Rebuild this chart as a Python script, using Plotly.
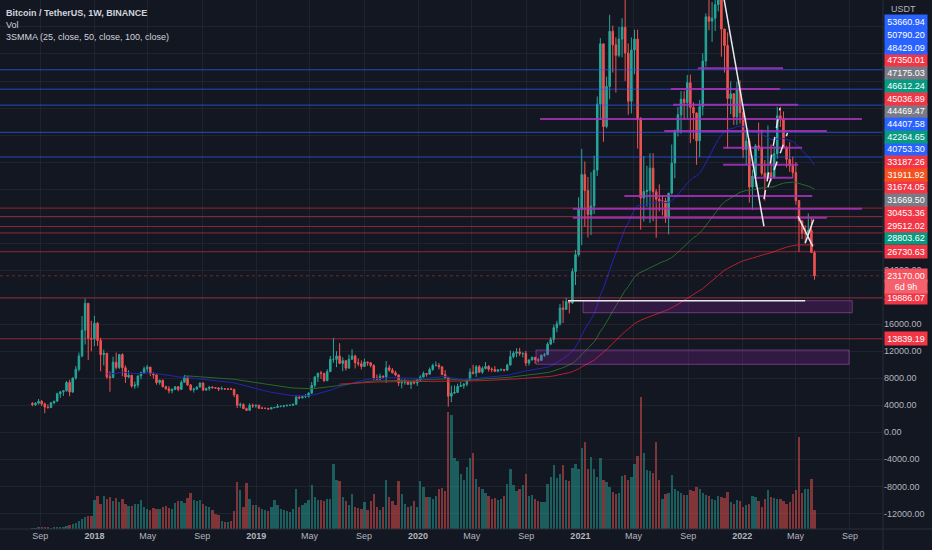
import pandas as pd
import plotly.graph_objects as go

# weekly BTC/USDT candles, week starting 2017-08-14
first_open = 4261
high = [4485, 4453, 4939, 4788, 4394, 4123, 4470, 4650, 5850, 6100, 6200, 7600, 7776, 8100, 9800, 11800, 17200, 19798, 19000, 16500,
        17250, 16300, 14000, 12250, 11700, 9000, 11200, 11800, 11600, 11700, 9900, 9200, 8500, 7500, 8400, 9000, 9750, 9990, 9650, 8880,
        8550, 7800, 7800, 6900, 6850, 6500, 6800, 6800, 7700, 8500, 8280, 7150, 6600, 6800, 7400, 7400, 6600, 6800, 6800, 6650,
        6700, 6800, 6550, 6500, 6600, 6450, 5650, 4400, 4300, 3650, 4300, 4250, 4100,
        4100, 3800, 3650, 3550, 3700, 3700, 4200, 3950, 3950, 4050, 4100, 4150, 5500, 5450, 5450, 5650, 5900, 7450, 8300, 8800,
        9100, 8800, 9350, 11300, 13970, 12000, 13200, 11100, 10650, 11500, 12300, 11500, 10950, 10650, 10900, 10450, 10350, 10050, 8550, 8700,
        8420, 10540, 9950, 9500, 9100, 8500, 7850, 7900, 7650, 7500, 7700, 7800,
        8450, 9000, 8750, 9600, 10150, 10500, 10250, 9700, 9200, 8200, 6900, 6950, 7200, 7450, 7300, 7750, 9450, 10000, 9950, 9950,
        9750, 10400, 9950, 9600, 9800, 9300, 9450, 9300, 10150, 12100, 12000, 12450, 12500, 11800, 12050, 10800, 11200, 11050, 11000, 11500,
        11750, 13350, 14100, 15950, 16500, 19000, 19500, 19900, 19450, 24300, 27000, 34800,
        41950, 40100, 37800, 38500, 40950, 49700, 58350, 57500, 52650, 61800, 60200, 58450, 60000, 61300, 64900, 57550, 58450, 59600, 59600, 46650,
        40900, 39450, 41300, 41300, 36000, 36700, 35100, 34700, 35400, 42600, 44800, 48150, 50500, 50500, 52900, 52950, 48850, 47350, 49200, 56100,
        62000, 67000, 63700, 64300, 69000, 66350, 59450, 59200, 51950, 50200, 51900, 52100,
        47550, 44450, 43500, 38900, 42650, 45850, 44800, 40300, 45400, 42600, 42350, 48200, 48200, 47500, 42400, 42950, 40800, 40000, 34250, 31300,
        30650, 32400, 31750, 26900]
low = [3850, 3900, 4110, 3900, 2817, 3505, 3610, 4170, 4550, 5100, 5380, 6030, 5325, 5850, 7800, 9000, 11100, 13000, 10700, 12000,
       12750, 12800, 9035, 9900, 7900, 6000, 8050, 9300, 9350, 8300, 7300, 8000, 6600, 6450, 6600, 7850, 8700, 8900, 8300, 7950,
       7050, 7050, 6650, 6300, 5750, 5780, 6250, 6070, 6300, 7400, 6900, 6100, 5880, 6250, 6650, 6100, 6150, 6150, 6450, 6450,
       6100, 6350, 6350, 6250, 6300, 5200, 3600, 3650, 3450, 3200, 3250, 3600, 3650,
       3500, 3500, 3450, 3350, 3400, 3550, 3680, 3700, 3700, 3800, 3900, 3950, 4100, 4900, 5000, 5050, 5150, 5650, 6600, 7450,
       7900, 7450, 7550, 8950, 10300, 9650, 10100, 9050, 9150, 9400, 10800, 9450, 9800, 9300, 9700, 9850, 9600, 7700, 7800, 7800,
       7900, 7300, 8970, 8700, 8300, 6850, 6500, 7050, 7000, 6400, 7100, 6850,
       7450, 8100, 8250, 8550, 9100, 9750, 9300, 8450, 8100, 3800, 4450, 5650, 5850, 6750, 6450, 6800, 7650, 8550, 8200, 8800,
       8650, 9300, 9000, 8900, 8900, 8900, 9050, 9000, 9100, 9950, 10950, 11100, 11300, 11100, 9800, 9900, 10650, 10150, 10350, 10550,
       11150, 11400, 12950, 13200, 14800, 15800, 16200, 18100, 17600, 19000, 21800, 26000,
       27700, 30400, 28850, 29200, 32300, 37950, 46250, 43000, 45000, 49300, 53250, 50300, 55500, 55500, 52000, 47000, 47200, 53000, 42000, 30000,
       31200, 33400, 31000, 31250, 28800, 32700, 32100, 31000, 29300, 35200, 37600, 43800, 44200, 46400, 46500, 42800, 43400, 39600, 40750, 46900,
       54150, 59500, 57800, 59400, 62300, 55600, 53250, 42000, 47100, 45500, 45500, 45700,
       40600, 39650, 34000, 32900, 36300, 41650, 38000, 34300, 37500, 37150, 37550, 40500, 45200, 42100, 39200, 38550, 37700, 33700, 26700, 28600,
       28000, 29300, 26550, 22600]
close = [4087, 4310, 4580, 4200, 3730, 3660, 4380, 4610, 5710, 5990, 6150, 7370, 5950, 8040, 9330, 11300, 15100, 19100, 13900, 13800,
         16150, 13600, 11500, 11700, 8200, 8100, 10380, 9600, 11500, 9550, 8200, 8450, 6850, 7000, 8350, 8800, 9400, 9650, 8700, 8500,
         7350, 7700, 6750, 6450, 6150, 6350, 6750, 6350, 7400, 8200, 7000, 6300, 6400, 6700, 7300, 6250, 6500, 6700, 6600, 6550,
         6400, 6450, 6400, 6400, 6350, 5550, 4000, 4100, 3500, 3250, 4000, 3900, 4000,
         3550, 3550, 3550, 3450, 3650, 3680, 3850, 3850, 3950, 4000, 4000, 4150, 5200, 5100, 5300, 5300, 5800, 6950, 8200, 8750,
         8740, 7650, 8980, 10800, 10800, 11300, 10200, 10600, 9500, 10800, 11300, 10300, 10150, 9750, 10400, 10300, 9900, 8050, 7850, 8300,
         8200, 9550, 9200, 8800, 8500, 7300, 7400, 7500, 7100, 7500, 7300, 7750,
         8180, 8700, 8600, 9300, 9900, 9900, 9700, 8550, 8050, 5350, 5800, 5900, 6780, 6900, 7100, 7700, 8900, 8750, 9700, 8900,
         9450, 9750, 9350, 9300, 9050, 9250, 9300, 9200, 9950, 11200, 11700, 11900, 11650, 11700, 10250, 10700, 11100, 10750, 10650, 11400,
         11500, 13050, 13750, 15480, 16050, 18400, 18200, 19350, 19150, 23800, 26300, 33000,
         38150, 35800, 32250, 33500, 38800, 48600, 57500, 45250, 51200, 59350, 57350, 55800, 58200, 59950, 56150, 49000, 56600, 58200, 46400, 34700,
         35650, 35800, 39100, 35600, 34500, 34250, 34250, 31800, 35400, 39850, 44600, 47000, 49300, 48800, 51750, 48100, 47250, 43150, 48200, 54950,
         61500, 60850, 61300, 63300, 65500, 59700, 57250, 49400, 50100, 46700, 50800, 47300,
         41850, 43100, 36300, 37900, 42400, 42200, 38350, 37700, 38400, 37800, 41250, 46850, 46400, 42150, 40400, 39450, 38450, 34300, 31300, 29450,
         29450, 29900, 26600, 23170]
# volume, thousand BTC
volume_k = [8, 8, 12, 16, 12, 12, 10, 12, 16, 16, 16, 24, 32, 40, 48, 64, 80, 96, 104, 104,
            232, 264, 200, 264, 240, 256, 224, 248, 216, 240, 200, 184, 184, 200, 200, 232, 176, 160, 152, 168,
            160, 160, 176, 184, 168, 160, 208, 224, 224, 208, 248, 288, 232, 224, 232, 200, 184, 176, 152, 120,
            112, 64, 56, 56,
            64, 144, 376, 312, 176, 368, 240, 192, 192, 176, 160, 152, 144, 176, 232, 192, 160, 152, 144, 136,
            160, 320, 176, 192, 208, 232, 352, 256, 232, 232, 224, 240, 240, 520, 392, 384, 256, 224, 192, 280,
            176, 168, 160, 216, 152, 224, 280, 176, 152, 176, 392, 256, 224, 192, 384, 280, 200, 176, 184, 224,
            176, 384, 336, 256, 256, 240, 264, 320, 328, 304,
            928, 904, 560, 536, 440, 392, 496, 560, 600, 400, 336, 320, 288, 264, 240, 248, 232, 240, 264, 360,
            480, 352, 304, 320, 352, 440, 264, 272, 240, 224, 216, 216, 360, 416, 512, 408, 440, 512, 392, 384,
            488, 520, 480, 640, 688, 480, 568, 480, 416, 560, 392, 376, 336, 296, 280, 288, 424, 432, 392, 416,
            520, 576, 1048, 600, 472, 464, 448, 688, 392, 240, 280, 288, 432, 320, 304, 288, 272, 272, 312, 304,
            336, 320, 288, 272, 264, 240, 232, 264, 256, 248, 296, 216, 200, 232, 224, 176, 192, 200, 264, 256,
            224, 176, 240, 312, 256, 248, 240, 240, 224, 200, 216, 280, 312, 728, 288, 320, 320, 400, 152]

# price levels with their axis labels (value, label colour)
levels = [(53660.94, "#2962ff"), (50790.20, "#2962ff"), (48429.09, "#2962ff"), (47350.01, "#f23645"),
          (47175.03, "#787b86"), (46612.24, "#089981"), (45036.89, "#f23645"), (44469.47, "#787b86"),
          (44407.58, "#2962ff"), (42264.65, "#089981"), (40753.30, "#2962ff"), (33187.26, "#f23645"),
          (31911.92, "#f4511e"), (31674.05, "#f23645"), (31669.50, "#787b86"), (30453.36, "#f23645"),
          (29512.02, "#f23645"), (28803.62, "#089981"), (26730.63, "#f23645")]
full_blue = [53660.94, 50790.20, 48429.09, 44407.58, 40753.30]
full_red = [33187.26, 31911.92, 30453.36, 29512.02, 26730.63, 19886.07, 13839.19]
low_levels = [19886.07, 13839.19]
last_price = 23170.00
countdown = "6d 9h"

# drawings
magenta_rays = [("2021-09-23", "2022-04-03", 53880), ("2021-07-24", "2022-03-27", 50810),
                ("2021-07-29", "2022-05-07", 48490), ("2020-10-02", "2022-09-28", 46370),
                ("2021-07-09", "2022-07-11", 44600), ("2021-11-19", "2022-05-16", 42130),
                ("2021-11-19", "2022-05-07", 39610), ("2022-01-26", "2022-04-26", 37690),
                ("2021-04-10", "2022-06-08", 34980), ("2020-12-15", "2022-09-28", 33100),
                ("2020-12-15", "2022-07-11", 31760)]
zones = [("2021-01-07", "2022-09-06", 17700, 19480), ("2020-09-23", "2022-08-30", 10065, 12180)]
white_solid = [("2021-11-08", 69000, "2022-02-19", 30500), ("2022-05-07", 31970, "2022-06-09", 27530),
               ("2022-05-23", 27970, "2022-06-11", 31510), ("2020-12-04", 19480, "2022-05-23", 19480)]
white_dash = [("2022-02-19", 34530, "2022-03-27", 48000), ("2022-02-28", 36310, "2022-04-13", 44290)]

tick_dates = ["2017-09-01", "2018-01-01", "2018-05-01", "2018-09-01", "2019-01-01", "2019-05-01", "2019-09-01",
              "2020-01-01", "2020-05-01", "2020-09-01", "2021-01-01", "2021-05-01", "2021-09-01", "2022-01-01",
              "2022-05-01", "2022-09-01"]
tick_text = ["Sep", "<b>2018</b>", "May", "Sep", "<b>2019</b>", "May", "Sep", "<b>2020</b>", "May", "Sep",
             "<b>2021</b>", "May", "Sep", "<b>2022</b>", "May", "Sep"]

BG = "#131722"
GRID = "rgba(42,46,57,0.55)"
TXT = "#b2b5be"
UP, DOWN = "#26a69a", "#ef5350"
FONT = "Liberation Sans"
Y_TOP, Y_BOT = 63990, -14313
PLOT_H = 529

dates = pd.date_range("2017-08-14", periods=len(close), freq="W-MON")
opens = [first_open] + close[:-1]


def smma(vals, n):
    out = [None] * len(vals)
    s = sum(vals[:n]) / n
    out[n - 1] = s
    for i in range(n, len(vals)):
        s = (s * (n - 1) + vals[i]) / n
        out[i] = s
    return out


def price_to_py(p):
    return (Y_TOP - p) * PLOT_H / (Y_TOP - Y_BOT)


def axis_label(text, py, col, height=11):
    return dict(text=text, xref="paper", yref="paper", x=1, xshift=1, xanchor="left",
                y=1 - py / PLOT_H, yanchor="middle", showarrow=False, bgcolor=col, borderpad=1,
                width=40, height=height, font=dict(size=9, color="#ffffff", family=FONT))


fig = go.Figure()

vol_colors = ["rgba(38,166,154,0.5)" if c >= o else "rgba(239,83,80,0.5)" for o, c in zip(opens, close)]
fig.add_trace(go.Bar(x=dates, y=volume_k, marker_color=vol_colors, marker_line_width=0,
                     width=7 * 86400000 * 0.75, yaxis="y2"))

for n, col in [(25, "#2424b4"), (50, "#236b2c"), (100, "#b8202e")]:
    fig.add_trace(go.Scatter(x=dates, y=smma(close, n), mode="lines", line=dict(color=col, width=1)))

fig.add_trace(go.Candlestick(
    x=dates, open=opens, high=high, low=low, close=close,
    increasing=dict(line=dict(color=UP, width=1), fillcolor=UP),
    decreasing=dict(line=dict(color=DOWN, width=1), fillcolor=DOWN),
    whiskerwidth=0))

shapes = []
for v in full_blue:
    shapes.append(dict(type="line", xref="paper", x0=0, x1=1, yref="y", y0=v, y1=v,
                       line=dict(color="rgba(41,98,255,0.7)", width=1)))
for v in full_red:
    shapes.append(dict(type="line", xref="paper", x0=0, x1=1, yref="y", y0=v, y1=v,
                       line=dict(color="rgba(242,54,69,0.55)", width=1)))
shapes.append(dict(type="line", xref="paper", x0=0, x1=1, yref="y", y0=last_price, y1=last_price,
                   line=dict(color="rgba(242,54,69,0.45)", width=1, dash="dot")))
for d0, d1, v in magenta_rays:
    shapes.append(dict(type="line", x0=d0, x1=d1, y0=v, y1=v, line=dict(color="rgba(170,50,190,0.85)", width=2)))
for d0, d1, p0, p1 in zones:
    shapes.append(dict(type="rect", x0=d0, x1=d1, y0=p0, y1=p1, fillcolor="rgba(156,39,176,0.22)",
                       line=dict(color="rgba(186,90,200,0.5)", width=1)))
for d0, p0, d1, p1 in white_solid:
    shapes.append(dict(type="line", x0=d0, x1=d1, y0=p0, y1=p1, line=dict(color="#e8e8ee", width=1.5)))
for d0, p0, d1, p1 in white_dash:
    shapes.append(dict(type="line", x0=d0, x1=d1, y0=p0, y1=p1, line=dict(color="#e8e8ee", width=1.5, dash="dash")))
# pane borders
shapes.append(dict(type="line", xref="paper", yref="paper", x0=1, x1=1, y0=-21 / PLOT_H, y1=1,
                   line=dict(color="#2a2e39", width=1)))
shapes.append(dict(type="line", xref="paper", yref="paper", x0=0, x1=932 / 883, y0=0, y1=0,
                   line=dict(color="#2a2e39", width=1)))

ann = []
legend_lines = ["<b>Bitcoin / TetherUS, 1W, BINANCE</b>", "Vol", "3SMMA (25, close, 50, close, 100, close)"]
for i, t in enumerate(legend_lines):
    ann.append(dict(text=t, xref="paper", yref="paper", x=0, xshift=4, xanchor="left",
                    y=1 - (12.7 + 12 * i) / PLOT_H, yanchor="middle", showarrow=False,
                    font=dict(size=9, color="#d1d4dc", family=FONT)))
ann.append(dict(text="USDT", xref="paper", yref="paper", x=1, xshift=6, xanchor="left", y=1 - 9 / PLOT_H,
                yanchor="middle", showarrow=False, font=dict(size=9, color=TXT, family=FONT)))

# stacked price labels on the axis
prev = None
for v, col in sorted(levels, key=lambda t: t[0]):
    py = price_to_py(v)
    if prev is not None:
        py = min(py, prev - 12.7)
    prev = py
    ann.append(axis_label("%.2f" % v, py, col))
for v in low_levels:
    ann.append(axis_label("%.2f" % v, price_to_py(v), "#f23645"))
ann.append(axis_label("%.2f" % last_price, price_to_py(last_price), "#f7525f"))
ann.append(axis_label(countdown, price_to_py(last_price) + 11, "#f4606b"))

ytick = list(range(-12000, 64000, 4000))
ytext = ["%.2f" % t if t <= 24000 else "" for t in ytick]

fig.update_layout(
    width=932, height=550, margin=dict(l=0, r=49, t=0, b=21, autoexpand=False),
    paper_bgcolor=BG, plot_bgcolor=BG, showlegend=False, bargap=0,
    font=dict(family=FONT, color=TXT, size=9),
    xaxis=dict(type="date", range=["2017-06-02", "2022-11-14 12:00"], rangeslider=dict(visible=False),
               tickvals=tick_dates, ticktext=tick_text, showgrid=True, gridcolor=GRID, gridwidth=1,
               zeroline=False, ticks="", tickfont=dict(size=9, color=TXT), showline=False, automargin=False),
    yaxis=dict(side="right", range=[Y_BOT, Y_TOP], tickvals=ytick, ticktext=ytext, showgrid=True,
               gridcolor=GRID, gridwidth=1, zeroline=False, ticks="", tickfont=dict(size=9, color=TXT),
               showline=False, automargin=False),
    yaxis2=dict(overlaying="y", range=[0, max(volume_k) * PLOT_H / 132], visible=False, showgrid=False),
    shapes=shapes, annotations=ann,
)

# page body has a default 8px margin; drop it so the chart fills the window
fig.write_html("out.html", config={"displayModeBar": False},
               post_script="document.body.style.margin='0';document.body.style.background='#131722';")
